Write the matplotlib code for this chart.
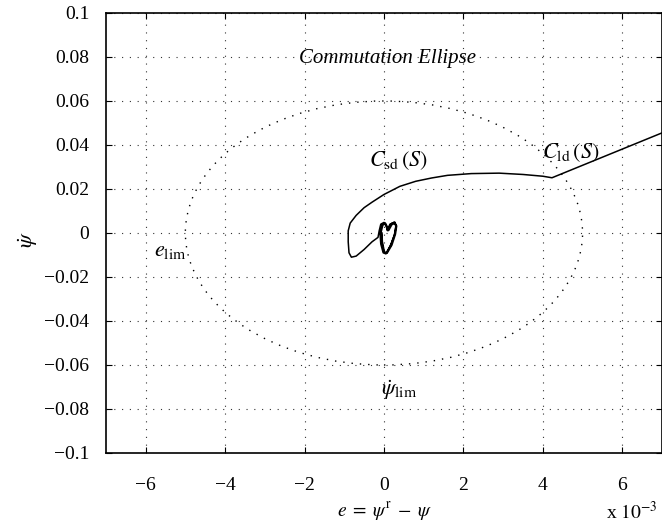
import matplotlib
matplotlib.use("Agg")
import matplotlib.pyplot as plt
from matplotlib.patches import Ellipse

plt.rcParams['font.family'] = ['Liberation Serif', 'DejaVu Serif']
plt.rcParams['mathtext.fontset'] = 'stix'

# trajectory, x in units of 1e-3
traj_x = [7.0, 4.23, 4.0, 3.5, 2.9, 2.2, 1.6, 1.2, 0.8, 0.4, 0.0, -0.3, -0.5, -0.7, -0.85,
          -0.9, -0.9, -0.88, -0.82, -0.70, -0.50, -0.30, -0.15,
          -0.12, -0.08, 0.0, 0.06, 0.08, 0.15, 0.25, 0.30, 0.28, 0.18, 0.05, -0.02, -0.08, -0.10,
          -0.06, 0.02, 0.07, 0.10, 0.18, 0.27, 0.32, 0.29, 0.20, 0.08, 0.0, -0.05, -0.07,
          -0.03, 0.04, 0.09, 0.12, 0.20, 0.28, 0.30, 0.26, 0.16, 0.06, 0.01, -0.04, -0.05]
traj_y = [0.0455, 0.0251, 0.0258, 0.0266, 0.0272, 0.0270, 0.0262, 0.0250, 0.0235, 0.0212, 0.0175,
          0.0140, 0.0115, 0.0080, 0.0045, 0.0010, -0.0040, -0.0090, -0.0110, -0.0105, -0.0075,
          -0.0040, -0.0020,
          0.0010, 0.0040, 0.0048, 0.0030, 0.0012, 0.0040, 0.0048, 0.0035, 0.0, -0.0050, -0.0095,
          -0.0090, -0.0050, 0.0,
          0.0038, 0.0046, 0.0028, 0.0010, 0.0042, 0.0050, 0.0032, -0.0005, -0.0055, -0.0092,
          -0.0088, -0.0045, 0.0005,
          0.0035, 0.0044, 0.0026, 0.0012, 0.0038, 0.0044, 0.0028, -0.0010, -0.0060, -0.0090,
          -0.0085, -0.0040, 0.0]

ellipse_a = 5.0   # half width, 1e-3
ellipse_b = 0.06  # half height

xticks = [-6, -4, -2, 0, 2, 4, 6]
xtick_labels = ['\u22126', '\u22124', '\u22122', '0', '2', '4', '6']
yticks = [-0.1, -0.08, -0.06, -0.04, -0.02, 0, 0.02, 0.04, 0.06, 0.08, 0.1]
ytick_labels = ['\u22120.1', '\u22120.08', '\u22120.06', '\u22120.04', '\u22120.02', '0',
                '0.02', '0.04', '0.06', '0.08', '0.1']

fig = plt.figure(figsize=(6.62, 5.30), dpi=100)
ax = fig.add_axes([0.160, 0.1453, 0.840, 0.8302])

ax.add_patch(Ellipse((0, 0), 2 * ellipse_a, 2 * ellipse_b, fill=False,
                     linestyle=(0, (1, 5)), linewidth=1.0, color='black'))
ax.plot(traj_x, traj_y, color='black', linewidth=1.1)

ax.set_xlim(-7, 7)
ax.set_ylim(-0.1, 0.1)
ax.set_xticks(xticks)
ax.set_xticklabels(xtick_labels)
ax.set_yticks(yticks)
ax.set_yticklabels(ytick_labels)
ax.tick_params(direction='in', top=True, right=True, length=4, labelsize=14)
ax.tick_params(axis='x', pad=17)
ax.tick_params(axis='y', pad=12)
ax.grid(True, linestyle=(0, (1, 6)), color='#333333', linewidth=0.8)
for s in ax.spines.values():
    s.set_linewidth(1.2)

ax.text(0.1, 0.0795, 'Commutation Ellipse', style='italic', fontsize=15, ha='center', va='center')
ax.text(0.38, 0.0330, r'$C_{\mathrm{sd}}\,(S)$', fontsize=16, ha='center', va='center')
ax.text(4.7, 0.0364, r'$C_{\mathrm{ld}}\,(S)$', fontsize=16, ha='center', va='center')
ax.text(-5.38, -0.0086, r'$e_{\mathrm{lim}}$', fontsize=16, ha='center', va='center')
ax.text(0.38, -0.0714, r'$\dot{\psi}_{\mathrm{lim}}$', fontsize=16, ha='center', va='center')

fig.text(28 / 662, 1 - 240 / 530, r'$\dot{\psi}$', fontsize=16, rotation=90, ha='center', va='center')
fig.text(385 / 662, 1 - 512 / 530, r'$e\;=\;\psi^{\mathrm{r}}\;-\;\psi$', fontsize=14, ha='center', va='center')
fig.text(632 / 662, 1 - 512 / 530, r'x $10^{-3}$', fontsize=14, ha='center', va='center')

fig.savefig('out.png', dpi=100)
